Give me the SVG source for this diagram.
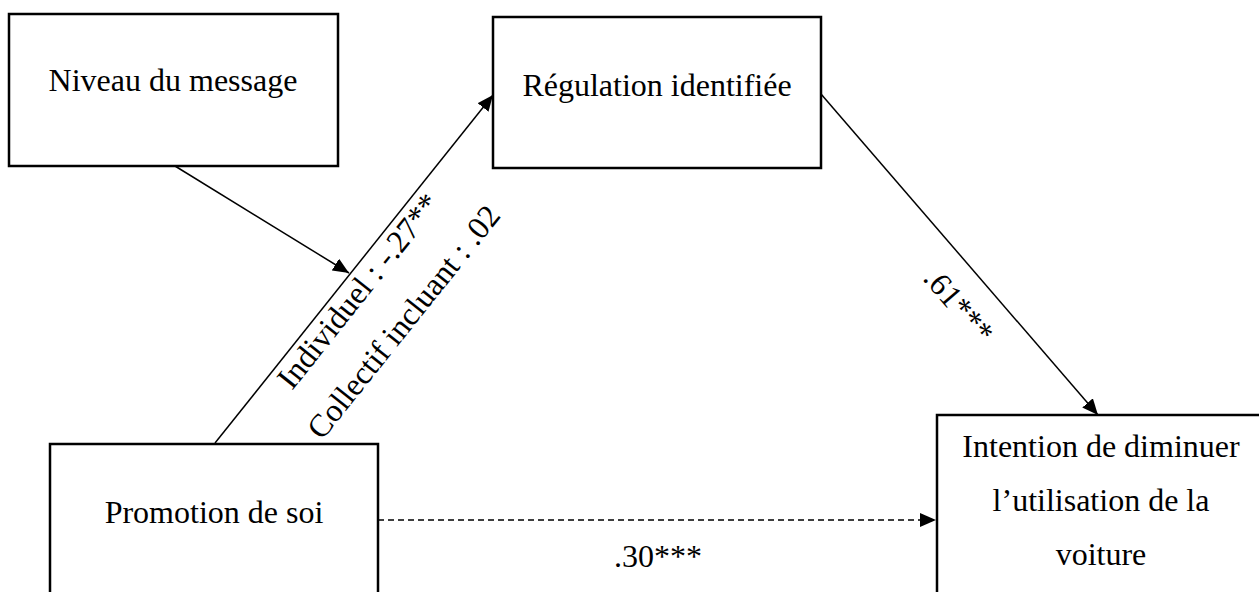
<svg xmlns="http://www.w3.org/2000/svg" width="1259" height="592" viewBox="0 0 1259 592">
<style>
.box{fill:#fff;stroke:#000;stroke-width:2.5}
.lbl{font-family:"Liberation Serif","Times New Roman",serif;font-size:32px;fill:#000}
.c{text-anchor:middle}
.edge{stroke:#000;stroke-width:1.5;fill:none}
.dash{stroke-dasharray:6 4}
</style>
<defs>
<marker id="arr" markerUnits="userSpaceOnUse" markerWidth="18" markerHeight="14" refX="16" refY="7" orient="auto">
<path d="M0,0 L16,7 L0,14 Z" fill="#000"/>
</marker>
</defs>
<rect width="1259" height="592" fill="#fff"/>
<g id="connectors">
<line class="edge" x1="175" y1="166" x2="349" y2="273" marker-end="url(#arr)"/>
<line class="edge" x1="215" y1="443" x2="493" y2="95" marker-end="url(#arr)"/>
<line class="edge" x1="821" y1="94" x2="1098" y2="415" marker-end="url(#arr)"/>
<line class="edge dash" x1="378" y1="520" x2="936" y2="520" marker-end="url(#arr)"/>
<text class="lbl" transform="translate(292,391) rotate(-51.4)">Individuel : -.27**</text>
<text class="lbl" transform="translate(322,441) rotate(-51.4)">Collectif incluant : .02</text>
<text class="lbl" transform="translate(922,279) rotate(49.2)">.61***</text>
<text class="lbl c" x="658" y="567">.30***</text>
</g>
<g id="node-niveau">
<rect class="box" x="9" y="14" width="329" height="152"/>
<text class="lbl c" x="173" y="91">Niveau du message</text>
</g>
<g id="node-regulation">
<rect class="box" x="493" y="17" width="328" height="151"/>
<text class="lbl c" x="657" y="96">Régulation identifiée</text>
</g>
<g id="node-promotion">
<rect class="box" x="50" y="444" width="328" height="200"/>
<text class="lbl c" x="214" y="523">Promotion de soi</text>
</g>
<g id="node-intention">
<rect class="box" x="937" y="415" width="330" height="200"/>
<text class="lbl c" x="1101" y="457">Intention de diminuer</text>
<text class="lbl c" x="1101" y="511">l’utilisation de la</text>
<text class="lbl c" x="1101" y="565">voiture</text>
</g>
</svg>
